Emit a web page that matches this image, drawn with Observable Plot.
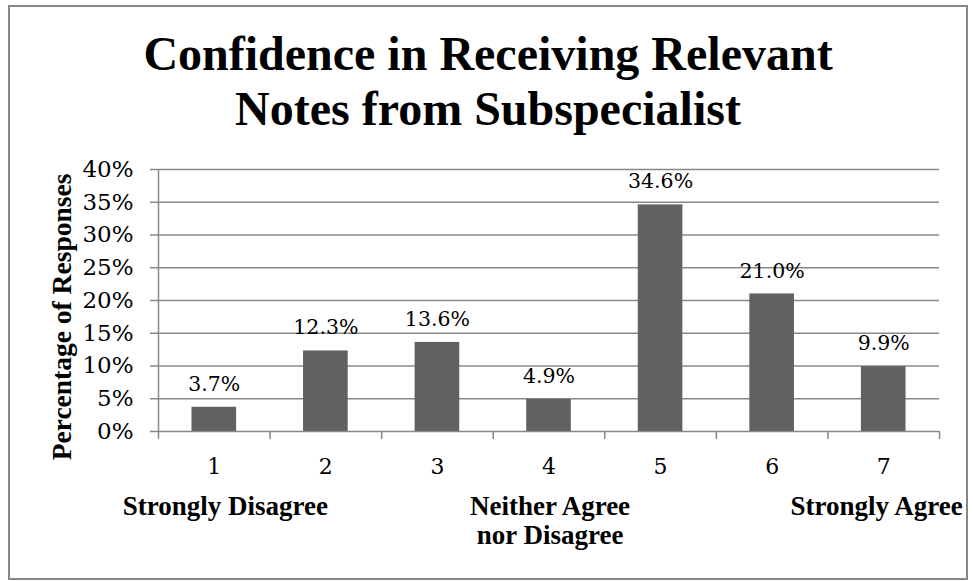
<!DOCTYPE html>
<html>
<head>
<meta charset="utf-8">
<script src="https://cdn.jsdelivr.net/npm/d3@7"></script>
<script src="https://cdn.jsdelivr.net/npm/@observablehq/plot@0.6"></script>
<style>
  body { margin: 0; background: #fff; }
  #frame { position: absolute; left: 8px; top: 5px; width: 960px; height: 575px; border: 2px solid #878787; box-sizing: border-box; background: #fff; }
  #title { height: 136px; padding-top: 19px; text-align: center; font: bold 48px/55px "Liberation Serif", serif; color: #000; }
  #chart svg { display: block; overflow: visible; }
</style>
</head>
<body>
<div id="frame">
  <div id="title">Confidence in Receiving Relevant<br>Notes from Subspecialist</div>
  <div id="chart"></div>
</div>
<script>
const categories = [1, 2, 3, 4, 5, 6, 7];
const values = [3.7, 12.3, 13.6, 4.9, 34.6, 21.0, 9.9];
const yTicks = [0, 5, 10, 15, 20, 25, 30, 35, 40];
const yTitle = "Percentage of Responses";
const lowLabel = "Strongly Disagree";
const midLabel = "Neither Agree\nnor Disagree";
const highLabel = "Strongly Agree";

const data = categories.map((c, i) => ({cat: c, value: values[i]}));
const boundaries = [...categories.map(c => c - 0.5), categories[categories.length - 1] + 0.5];
const halfBar = 0.2;
const gray = "#888";
const serif = "DejaVu Serif";
const boldSerif = "Liberation Serif";

const chart = Plot.plot({
  width: 956,
  height: 416,
  marginLeft: 148,
  marginRight: 27,
  marginTop: 7,
  marginBottom: 147,
  style: {fontFamily: serif, fontSize: "23px", color: "#000", background: "transparent", overflow: "visible"},
  x: {type: "linear", domain: [boundaries[0], boundaries[boundaries.length - 1]]},
  y: {domain: [0, 40]},
  marks: [
    Plot.gridY(yTicks.filter(d => d > 0), {stroke: gray, strokeOpacity: 1, strokeWidth: 1.5}),
    Plot.ruleX([boundaries[0]], {y1: 0, y2: 40, stroke: gray, strokeWidth: 1.5}),
    Plot.rectY(data, {x1: d => d.cat - halfBar, x2: d => d.cat + halfBar, y: "value", fill: "#616161"}),
    Plot.ruleY([0], {stroke: gray, strokeWidth: 1.5}),
    Plot.axisY({ticks: yTicks, tickSize: 8, tickPadding: 17, tickFormat: d => d + "%", stroke: gray, strokeWidth: 1.5, fill: "#000", fontSize: 23, label: null}),
    Plot.axisX({ticks: boundaries, tickSize: 8, tickFormat: () => "", stroke: gray, strokeWidth: 1.5, label: null}),
    Plot.text(categories, {x: d => d, y: 0, dy: 35, text: d => String(d), fontSize: 22, fill: "#000"}),
    Plot.text(data, {x: "cat", y: "value", dy: -23, text: d => d.value.toFixed(1) + "%", fontSize: 20.5, fill: "#000"}),
    Plot.text([lowLabel], {x: categories[0], y: 0, dy: 75, dx: 11, text: d => d, fontFamily: boldSerif, fontWeight: "bold", fontSize: 27, fill: "#000"}),
    Plot.text([midLabel], {x: categories[3], y: 0, dy: 89, dx: 1, text: d => d, lineHeight: 1.04, fontFamily: boldSerif, fontWeight: "bold", fontSize: 27, fill: "#000"}),
    Plot.text([highLabel], {x: categories[6], y: 0, dy: 75, dx: -7, text: d => d, fontFamily: boldSerif, fontWeight: "bold", fontSize: 27, fill: "#000"}),
    Plot.text([yTitle], {frameAnchor: "left", textAnchor: "middle", dx: -96, dy: 16.5, rotate: -90, text: d => d, fontFamily: boldSerif, fontWeight: "bold", fontSize: 27.5, fill: "#000"})
  ]
});
document.getElementById("chart").appendChild(chart);
</script>
</body>
</html>
